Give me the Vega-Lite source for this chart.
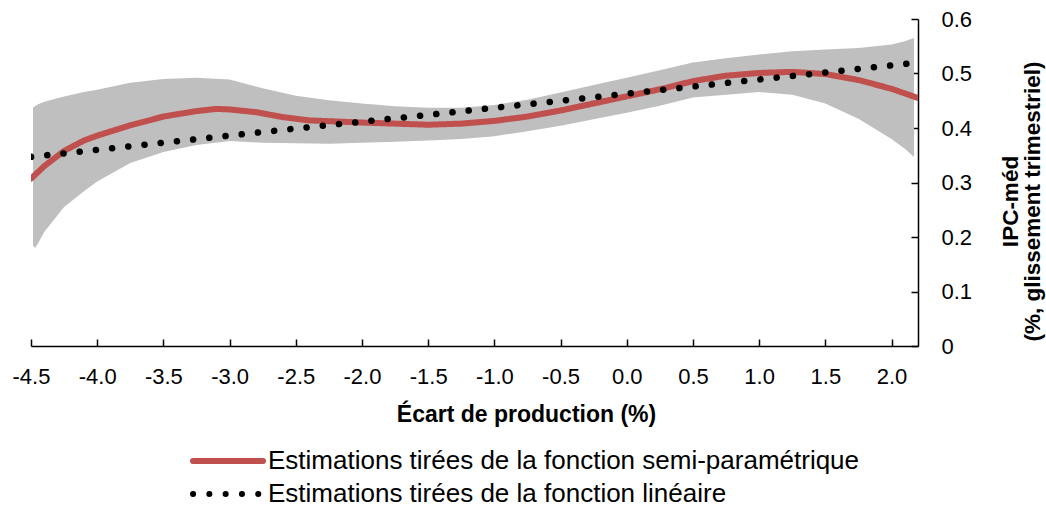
{
  "$schema": "https://vega.github.io/schema/vega-lite/v6.json",
  "width": 887,
  "height": 327,
  "autosize": {"type": "none"},
  "padding": {"left": 31, "top": 19, "right": 128, "bottom": 162},
  "config": {"view": {"stroke": null}, "font": "Liberation Sans"},
  "datasets": {
    "band": [
      {"x": -4.485, "lo": 0.185, "hi": 0.437},
      {"x": -4.47, "lo": 0.180, "hi": 0.440},
      {"x": -4.45, "lo": 0.187, "hi": 0.443},
      {"x": -4.4, "lo": 0.209, "hi": 0.448},
      {"x": -4.25, "lo": 0.255, "hi": 0.458},
      {"x": -4.1, "lo": 0.284, "hi": 0.466},
      {"x": -4.0, "lo": 0.302, "hi": 0.470},
      {"x": -3.75, "lo": 0.336, "hi": 0.483},
      {"x": -3.5, "lo": 0.356, "hi": 0.490},
      {"x": -3.25, "lo": 0.369, "hi": 0.492},
      {"x": -3.0, "lo": 0.376, "hi": 0.489},
      {"x": -2.75, "lo": 0.373, "hi": 0.473},
      {"x": -2.5, "lo": 0.372, "hi": 0.459},
      {"x": -2.25, "lo": 0.371, "hi": 0.451},
      {"x": -2.0, "lo": 0.373, "hi": 0.445},
      {"x": -1.75, "lo": 0.375, "hi": 0.440},
      {"x": -1.5, "lo": 0.377, "hi": 0.437},
      {"x": -1.25, "lo": 0.380, "hi": 0.437},
      {"x": -1.0, "lo": 0.385, "hi": 0.442},
      {"x": -0.75, "lo": 0.394, "hi": 0.452},
      {"x": -0.5, "lo": 0.404, "hi": 0.465},
      {"x": -0.25, "lo": 0.416, "hi": 0.479},
      {"x": 0.0, "lo": 0.428, "hi": 0.492},
      {"x": 0.25, "lo": 0.441, "hi": 0.506},
      {"x": 0.5, "lo": 0.456, "hi": 0.520},
      {"x": 0.75, "lo": 0.461, "hi": 0.528},
      {"x": 1.0, "lo": 0.466, "hi": 0.535},
      {"x": 1.25, "lo": 0.461, "hi": 0.541},
      {"x": 1.5, "lo": 0.445, "hi": 0.544},
      {"x": 1.75, "lo": 0.417, "hi": 0.547},
      {"x": 2.0, "lo": 0.380, "hi": 0.553},
      {"x": 2.1, "lo": 0.362, "hi": 0.559},
      {"x": 2.17, "lo": 0.347, "hi": 0.565}
    ],
    "semi": [
      {"x": -4.5, "y": 0.307, "series": "Estimations tirées de la fonction semi-paramétrique"},
      {"x": -4.4, "y": 0.330, "series": "Estimations tirées de la fonction semi-paramétrique"},
      {"x": -4.25, "y": 0.358, "series": "Estimations tirées de la fonction semi-paramétrique"},
      {"x": -4.1, "y": 0.377, "series": "Estimations tirées de la fonction semi-paramétrique"},
      {"x": -4.0, "y": 0.386, "series": "Estimations tirées de la fonction semi-paramétrique"},
      {"x": -3.75, "y": 0.405, "series": "Estimations tirées de la fonction semi-paramétrique"},
      {"x": -3.5, "y": 0.421, "series": "Estimations tirées de la fonction semi-paramétrique"},
      {"x": -3.25, "y": 0.431, "series": "Estimations tirées de la fonction semi-paramétrique"},
      {"x": -3.1, "y": 0.435, "series": "Estimations tirées de la fonction semi-paramétrique"},
      {"x": -3.0, "y": 0.434, "series": "Estimations tirées de la fonction semi-paramétrique"},
      {"x": -2.8, "y": 0.429, "series": "Estimations tirées de la fonction semi-paramétrique"},
      {"x": -2.6, "y": 0.420, "series": "Estimations tirées de la fonction semi-paramétrique"},
      {"x": -2.4, "y": 0.414, "series": "Estimations tirées de la fonction semi-paramétrique"},
      {"x": -2.2, "y": 0.412, "series": "Estimations tirées de la fonction semi-paramétrique"},
      {"x": -2.0, "y": 0.410, "series": "Estimations tirées de la fonction semi-paramétrique"},
      {"x": -1.75, "y": 0.408, "series": "Estimations tirées de la fonction semi-paramétrique"},
      {"x": -1.5, "y": 0.406, "series": "Estimations tirées de la fonction semi-paramétrique"},
      {"x": -1.25, "y": 0.408, "series": "Estimations tirées de la fonction semi-paramétrique"},
      {"x": -1.0, "y": 0.413, "series": "Estimations tirées de la fonction semi-paramétrique"},
      {"x": -0.75, "y": 0.421, "series": "Estimations tirées de la fonction semi-paramétrique"},
      {"x": -0.5, "y": 0.432, "series": "Estimations tirées de la fonction semi-paramétrique"},
      {"x": -0.25, "y": 0.445, "series": "Estimations tirées de la fonction semi-paramétrique"},
      {"x": 0.0, "y": 0.458, "series": "Estimations tirées de la fonction semi-paramétrique"},
      {"x": 0.25, "y": 0.471, "series": "Estimations tirées de la fonction semi-paramétrique"},
      {"x": 0.5, "y": 0.486, "series": "Estimations tirées de la fonction semi-paramétrique"},
      {"x": 0.75, "y": 0.496, "series": "Estimations tirées de la fonction semi-paramétrique"},
      {"x": 1.0, "y": 0.501, "series": "Estimations tirées de la fonction semi-paramétrique"},
      {"x": 1.25, "y": 0.503, "series": "Estimations tirées de la fonction semi-paramétrique"},
      {"x": 1.5, "y": 0.499, "series": "Estimations tirées de la fonction semi-paramétrique"},
      {"x": 1.75, "y": 0.488, "series": "Estimations tirées de la fonction semi-paramétrique"},
      {"x": 2.0, "y": 0.472, "series": "Estimations tirées de la fonction semi-paramétrique"},
      {"x": 2.2, "y": 0.455, "series": "Estimations tirées de la fonction semi-paramétrique"}
    ],
    "lin": [
      {"x": -4.5, "y": 0.347, "series": "Estimations tirées de la fonction linéaire"},
      {"x": -3.5, "y": 0.373, "series": "Estimations tirées de la fonction linéaire"},
      {"x": -2.5, "y": 0.399, "series": "Estimations tirées de la fonction linéaire"},
      {"x": -1.5, "y": 0.424, "series": "Estimations tirées de la fonction linéaire"},
      {"x": -0.5, "y": 0.450, "series": "Estimations tirées de la fonction linéaire"},
      {"x": 0.5, "y": 0.476, "series": "Estimations tirées de la fonction linéaire"},
      {"x": 1.5, "y": 0.502, "series": "Estimations tirées de la fonction linéaire"},
      {"x": 2.2, "y": 0.520, "series": "Estimations tirées de la fonction linéaire"}
    ]
  },
  "encoding": {
    "x": {
      "field": "x",
      "type": "quantitative",
      "scale": {"domain": [-4.5, 2.2], "nice": false, "zero": false},
      "axis": {
        "values": [-4.5, -4.0, -3.5, -3.0, -2.5, -2.0, -1.5, -1.0, -0.5, 0.0, 0.5, 1.0, 1.5, 2.0],
        "labelExpr": "replace(format(datum.value, '.1f'), '\u2212', '-')",
        "grid": false,
        "domainColor": "#000000",
        "domainWidth": 1.5,
        "tickColor": "#000000",
        "tickWidth": 1.5,
        "tickSize": -7,
        "labelPadding": 27,
        "labelFontSize": 22,
        "labelColor": "#000000",
        "labelFlush": false,
        "labelOverlap": false,
        "title": "Écart de production (%)",
        "titleFontSize": 23,
        "titleFontWeight": "bold",
        "titleColor": "#000000",
        "titleX": 495,
        "titleY": 75,
        "titleAlign": "center",
        "titleBaseline": "alphabetic"
      }
    }
  },
  "layer": [
    {
      "data": {"name": "band"},
      "mark": {"type": "area", "color": "#BFBFBF", "clip": true},
      "encoding": {
        "y": {
          "field": "lo",
          "type": "quantitative",
          "scale": {"domain": [0, 0.6], "nice": false, "zero": false},
          "axis": {
            "orient": "right",
            "values": [0, 0.1, 0.2, 0.3, 0.4, 0.5, 0.6],
            "format": ".1~f",
            "grid": false,
            "domainColor": "#000000",
            "domainWidth": 1.5,
            "tickColor": "#000000",
            "tickWidth": 1.5,
            "tickSize": -7,
            "labelPadding": 30,
            "labelFontSize": 22,
            "labelColor": "#000000",
            "labelFlush": false,
            "labelOverlap": false,
            "title": ["IPC-méd", "(%, glissement trimestriel)"],
            "titleFontSize": 22.5,
            "titleFontWeight": "bold",
            "titleColor": "#000000",
            "titleAngle": 270,
            "titleX": 92,
            "titleY": 182,
            "titleAlign": "center",
            "titleBaseline": "middle",
            "titleLineHeight": 22
          }
        },
        "y2": {"field": "hi"}
      }
    },
    {
      "data": {"name": "semi"},
      "mark": {"type": "line", "strokeWidth": 6, "strokeCap": "round", "clip": true},
      "encoding": {
        "y": {"field": "y", "type": "quantitative", "title": ["IPC-méd", "(%, glissement trimestriel)"]},
        "color": {
          "field": "series",
          "type": "nominal",
          "scale": {"domain": ["Estimations tirées de la fonction semi-paramétrique", "Estimations tirées de la fonction linéaire"], "range": ["#C0504D", "#000000"]},
          "legend": {"orient": "none", "legendX": 159, "legendY": 428, "direction": "vertical", "title": null, "padding": 0, "clipHeight": 28, "rowPadding": 5, "symbolType": "stroke", "symbolSize": 4900, "symbolStrokeWidth": 6, "labelFontSize": 26, "labelColor": "#000000", "labelLimit": 0, "labelOffset": 2, "encode": {"symbols": {"update": {"strokeCap": {"value": "round"}}}}}
        },
        "strokeDash": {
          "field": "series",
          "type": "nominal",
          "scale": {"domain": ["Estimations tirées de la fonction semi-paramétrique", "Estimations tirées de la fonction linéaire"], "range": [[1, 0], [0.1, 16.2]]},
          "legend": {"orient": "none", "legendX": 159, "legendY": 428, "direction": "vertical", "title": null, "padding": 0, "clipHeight": 28, "rowPadding": 5, "symbolType": "stroke", "symbolSize": 4900, "symbolStrokeWidth": 6, "labelFontSize": 26, "labelColor": "#000000", "labelLimit": 0, "labelOffset": 2, "encode": {"symbols": {"update": {"strokeCap": {"value": "round"}}}}}
        }
      }
    },
    {
      "data": {"name": "lin"},
      "mark": {"type": "line", "strokeWidth": 6.5, "strokeCap": "round", "clip": true},
      "encoding": {
        "y": {"field": "y", "type": "quantitative", "title": ["IPC-méd", "(%, glissement trimestriel)"]},
        "color": {"field": "series", "type": "nominal"},
        "strokeDash": {"field": "series", "type": "nominal"}
      }
    }
  ]
}
